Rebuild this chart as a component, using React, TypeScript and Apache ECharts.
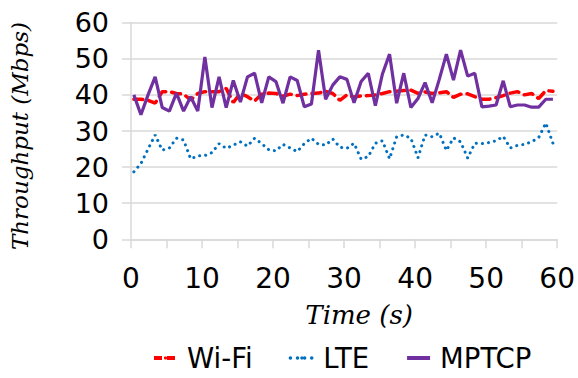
import React, { useEffect, useRef } from "react";
import * as echarts from "echarts";

const times = [
  0.4, 1.4, 2.4, 3.4, 4.4, 5.4, 6.4, 7.4, 8.4, 9.4,
  10.4, 11.4, 12.4, 13.4, 14.4, 15.4, 16.4, 17.4, 18.4, 19.4,
  20.4, 21.4, 22.4, 23.4, 24.4, 25.4, 26.4, 27.4, 28.4, 29.4,
  30.4, 31.4, 32.4, 33.4, 34.4, 35.4, 36.4, 37.4, 38.4, 39.4,
  40.4, 41.4, 42.4, 43.4, 44.4, 45.4, 46.4, 47.4, 48.4, 49.4,
  50.4, 51.4, 52.4, 53.4, 54.4, 55.4, 56.4, 57.4, 58.4, 59.4,
];

const wifi = [
  38.8, 38.8, 38.5, 37.7, 40.9, 40.9, 40.4, 40.2, 38.6, 40.4,
  40.9, 40.9, 40.9, 41.8, 37.9, 40.4, 39.5, 38.3, 40.2, 40.5,
  40.4, 39.6, 40.2, 39.8, 40.2, 40.4, 40.5, 41.0, 40.4, 38.5,
  40.0, 39.4, 39.7, 39.8, 40.0, 40.4, 40.9, 41.0, 41.2, 41.3,
  40.4, 40.8, 40.4, 40.6, 40.9, 39.3, 40.2, 40.3, 39.5, 38.8,
  38.8, 39.2, 39.8, 40.5, 40.9, 40.0, 40.4, 39.0, 41.2, 41.0,
];

const lte = [
  18.7, 21.0, 25.0, 28.9, 24.7, 25.3, 28.0, 27.5, 22.3, 23.1,
  23.2, 24.0, 26.5, 25.2, 26.1, 27.0, 25.8, 28.0, 26.5, 24.8,
  24.5, 26.3, 25.3, 24.3, 26.5, 28.0, 26.3, 26.1, 27.8, 25.5,
  25.2, 26.6, 22.2, 22.9, 26.6, 27.3, 22.3, 28.4, 28.9, 28.0,
  22.6, 28.9, 28.4, 29.4, 24.6, 28.1, 27.0, 22.5, 26.6, 26.5,
  26.8, 27.3, 28.5, 25.3, 26.0, 26.3, 27.0, 28.2, 32.2, 26.6,
];

const mptcp = [
  40.0, 34.5, 40.0, 45.0, 36.5, 35.5, 40.5, 35.5, 39.5, 35.5,
  50.5, 36.5, 45.0, 36.5, 44.0, 38.0, 45.0, 46.0, 37.8, 45.0,
  43.7, 37.7, 45.0, 44.0, 36.7, 37.5, 52.4, 38.8, 42.7, 45.0,
  44.3, 37.8, 43.7, 46.0, 37.0, 45.8, 51.3, 37.7, 46.0, 36.5,
  39.0, 43.4, 37.8, 44.3, 51.3, 44.1, 52.4, 45.2, 46.0, 36.7,
  36.9, 37.2, 43.9, 36.7, 37.2, 37.2, 36.6, 36.6, 38.8, 38.8,
];

const yTicks = [0, 10, 20, 30, 40, 50, 60];
const xLabelStep = 10;

const pair = (vals: number[]) => vals.map((v, i) => [times[i], v]);

export default function App() {
  const ref = useRef<HTMLDivElement>(null);
  useEffect(() => {
    if (!ref.current) return;
    const chart = echarts.init(ref.current, null, { renderer: "svg" });
    const gray = "#d9d9d9";
    const labelFont = "DejaVu Sans";
    const titleFont = "DejaVu Serif";
    const red = "#ff0000";
    const blue = "#0070c0";
    const purple = "#7030a0";
    chart.setOption({
      animation: false,
      grid: { left: 129, top: 22.7, width: 434, height: 216.6, containLabel: false },
      legend: {
        top: 344,
        left: 152,
        padding: 0,
        itemWidth: 23,
        itemHeight: 4,
        itemGap: 36,
        textStyle: {
          fontFamily: labelFont,
          fontSize: 27.5,
          lineHeight: 28,
          color: "#000",
          padding: [0, 0, 0, 5],
        },
        data: [
          { name: "Wi-Fi", lineStyle: { color: red, width: 4, type: [8, 5], cap: "butt" } },
          { name: "LTE", lineStyle: { color: blue, width: 3.5, type: [0.1, 7], cap: "round" } },
          { name: "MPTCP", lineStyle: { color: purple, width: 4, type: "solid" } },
        ],
      },
      xAxis: {
        type: "value",
        min: 0,
        max: 60,
        interval: 5,
        name: "Time (s)",
        nameLocation: "middle",
        nameGap: 63,
        nameTextStyle: {
          fontFamily: titleFont,
          fontStyle: "italic",
          fontSize: 26,
          color: "#000",
          padding: [0, 0, 0, 30],
        },
        axisLine: { show: true, lineStyle: { color: gray, width: 1.5 } },
        axisTick: { show: true, length: 9, lineStyle: { color: gray, width: 1.5 } },
        axisLabel: {
          fontFamily: labelFont,
          fontSize: 28,
          color: "#000",
          margin: 25,
          formatter: (v: number) => (v % xLabelStep === 0 ? String(v) : ""),
        },
        splitLine: { show: false },
      },
      yAxis: {
        type: "value",
        min: yTicks[0],
        max: yTicks[yTicks.length - 1],
        interval: 10,
        name: "Throughput (Mbps)",
        nameLocation: "middle",
        nameGap: 100,
        nameTextStyle: {
          fontFamily: titleFont,
          fontStyle: "italic",
          fontSize: 23,
          color: "#000",
          padding: [0, 10, 0, 0],
        },
        axisLine: { show: true, lineStyle: { color: gray, width: 1.5 } },
        axisTick: { show: true, length: 9, lineStyle: { color: gray, width: 1.5 } },
        axisLabel: { fontFamily: labelFont, fontSize: 27, color: "#000", margin: 22 },
        splitLine: { show: true, lineStyle: { color: gray, width: 1.5 } },
      },
      series: [
        {
          name: "Wi-Fi",
          type: "line",
          data: pair(wifi),
          symbol: "none",
          z: 2,
          itemStyle: { color: red },
          lineStyle: { color: red, width: 3.5, type: [9, 6], cap: "round" },
        },
        {
          name: "LTE",
          type: "line",
          data: pair(lte),
          symbol: "none",
          z: 1,
          itemStyle: { color: blue },
          lineStyle: { color: blue, width: 3, type: [0.1, 6], cap: "round" },
        },
        {
          name: "MPTCP",
          type: "line",
          data: pair(mptcp),
          symbol: "none",
          z: 3,
          itemStyle: { color: purple },
          lineStyle: { color: purple, width: 3.2, type: "solid" },
        },
      ],
    });
    return () => chart.dispose();
  }, []);
  return (
    <div
      ref={ref}
      style={{ position: "fixed", left: 0, top: 0, width: 578, height: 378, background: "#fff" }}
    />
  );
}
